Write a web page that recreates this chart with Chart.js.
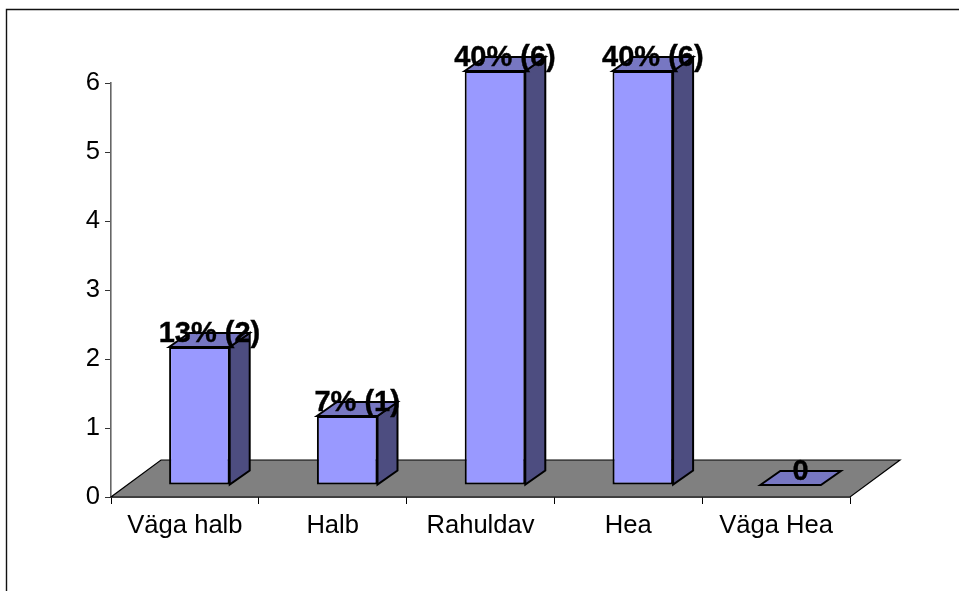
<!DOCTYPE html>
<html><head><meta charset="utf-8">
<style>html,body{margin:0;padding:0;background:#fff}#w{position:relative;width:959px;height:591px}</style>
<script src="https://cdn.jsdelivr.net/npm/chart.js@4"></script></head>
<body><div id="w"><canvas id="c" width="959" height="591"></canvas></div>
<script>
const categories = ['Väga halb','Halb','Rahuldav','Hea','Väga Hea'];
const values = [2,1,6,6,0];
const dataLabels = ['13% (2)','7% (1)','40% (6)','40% (6)','0'];
const yTicks = [0,1,2,3,4,5,6];

const FRONT='#9999FF', TOP='#7777C2', SIDE='#4D4D80', FLOOR='#808080';
const SHIFT={x:14.5,y:-12}, DEPTH={x:20,y:-14}, FLOOR_D={x:50,y:-37};

function poly(ctx,pts,fill,lw){
  ctx.beginPath();pts.forEach((p,i)=>i?ctx.lineTo(p[0],p[1]):ctx.moveTo(p[0],p[1]));ctx.closePath();
  ctx.fillStyle=fill;ctx.fill();ctx.lineWidth=lw;ctx.strokeStyle='#000';ctx.lineJoin='miter';ctx.stroke();
}
const scene={
  id:'scene',
  beforeDraw(ch){
    const c=ch.ctx;c.save();c.fillStyle='#fff';c.fillRect(0,0,ch.width,ch.height);
    c.strokeStyle='#111';c.lineWidth=1.4;c.beginPath();c.moveTo(6.5,ch.height);c.lineTo(6.5,9.5);c.lineTo(ch.width,9.5);c.stroke();c.restore();
  },
  beforeDatasetsDraw(ch){
    const a=ch.chartArea,c=ch.ctx;c.save();
    poly(c,[[a.left,a.bottom],[a.right,a.bottom],[a.right+FLOOR_D.x,a.bottom+FLOOR_D.y],[a.left+FLOOR_D.x,a.bottom+FLOOR_D.y]],FLOOR,1.2);
    c.restore();
  },
  beforeDatasetDraw(ch){
    const c=ch.ctx;c.save();c.translate(SHIFT.x,SHIFT.y);
    ch.getDatasetMeta(0).data.forEach(b=>{
      const l=b.x-b.width/2,r=b.x+b.width/2,t=b.y,bt=b.base;
      if(bt-t>0.5) poly(c,[[r,t],[r+DEPTH.x,t+DEPTH.y],[r+DEPTH.x,bt+DEPTH.y],[r,bt]],SIDE,2);
      poly(c,[[l,t],[l+DEPTH.x,t+DEPTH.y],[r+DEPTH.x,t+DEPTH.y],[r,t]],TOP,2);
    });
  },
  afterDatasetDraw(ch){ch.ctx.restore();},
  afterDatasetsDraw(ch){
    const c=ch.ctx;c.save();
    c.font='bold 29px "Liberation Sans"';c.fillStyle='#000';c.strokeStyle='#000';c.lineWidth=0.4;c.textAlign='center';c.textBaseline='middle';
    ch.getDatasetMeta(0).data.forEach((b,i)=>{
      const x=b.x+SHIFT.x+DEPTH.x/2,y=b.y+SHIFT.y-13;
      c.fillText(dataLabels[i],x,y);c.strokeText(dataLabels[i],x,y);
    });
    c.restore();
  }
};
new Chart(document.getElementById('c'),{
  type:'bar',
  data:{labels:categories,datasets:[{data:values,backgroundColor:FRONT,borderColor:'#000',borderWidth:2,borderSkipped:false,
    barPercentage:0.41,categoryPercentage:1,clip:false,minBarLength:0}]},
  plugins:[scene],
  options:{
    responsive:false,animation:false,
    layout:{padding:{left:0,right:109,top:83,bottom:0}},
    plugins:{legend:{display:false},tooltip:{enabled:false},title:{display:false}},
    scales:{
      x:{offset:true,
        grid:{offset:true,drawOnChartArea:false,drawTicks:true,tickLength:7,color:'#000',lineWidth:1},
        border:{color:'#000',width:1.4},
        ticks:{color:'#000',padding:7,maxRotation:0,font:{family:'Liberation Sans',size:25.6}},
        afterFit(s){s.height=94;}},
      y:{min:0,max:6,
        afterBuildTicks(s){s.ticks=yTicks.map(v=>({value:v}));},
        grid:{drawOnChartArea:false,drawTicks:true,tickLength:6,color:'#333',lineWidth:1},
        border:{color:'#666',width:1.6},
        ticks:{color:'#000',padding:5,font:{family:'Liberation Sans',size:25.6}},
        afterFit(s){s.width=111;}}
    }
  }
});
</script></body></html>
